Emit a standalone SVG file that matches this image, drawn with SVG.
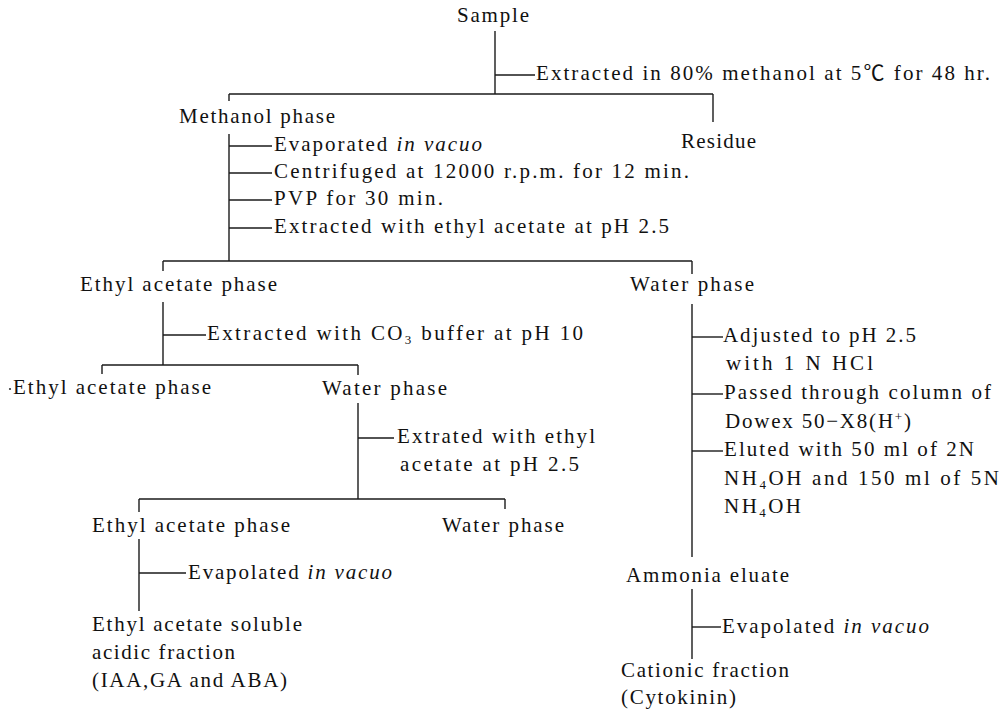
<svg xmlns="http://www.w3.org/2000/svg" width="1003" height="711" viewBox="0 0 1003 711">
<style>
text{font-family:"Liberation Serif","Noto Sans CJK JP",serif;font-size:21px;fill:#111}
.it{font-style:italic}
.sub{font-size:13px}
#connectors line{stroke:#1a1a1a;stroke-width:1.4;fill:none}
</style>
<rect width="1003" height="711" fill="#fff"/>
<g id="connectors">
<line x1="495" y1="31" x2="495" y2="94"/>
<line x1="495" y1="75" x2="535" y2="75"/>
<line x1="229" y1="94" x2="713" y2="94"/>
<line x1="229" y1="94" x2="229" y2="101"/>
<line x1="713" y1="94" x2="713" y2="122"/>
<line x1="229" y1="134" x2="229" y2="261"/>
<line x1="229" y1="146" x2="272" y2="146"/>
<line x1="229" y1="173" x2="272" y2="173"/>
<line x1="229" y1="200" x2="272" y2="200"/>
<line x1="229" y1="228" x2="272" y2="228"/>
<line x1="163" y1="261" x2="692" y2="261"/>
<line x1="163" y1="261" x2="163" y2="271"/>
<line x1="692" y1="261" x2="692" y2="274"/>
<line x1="163" y1="302" x2="163" y2="365"/>
<line x1="163" y1="335" x2="206" y2="335"/>
<line x1="102" y1="365" x2="358" y2="365"/>
<line x1="102" y1="365" x2="102" y2="374"/>
<line x1="358" y1="365" x2="358" y2="375"/>
<line x1="358" y1="403" x2="358" y2="499"/>
<line x1="358" y1="438" x2="394" y2="438"/>
<line x1="139" y1="499" x2="505" y2="499"/>
<line x1="139" y1="499" x2="139" y2="512"/>
<line x1="505" y1="499" x2="505" y2="509"/>
<line x1="139" y1="539" x2="139" y2="611"/>
<line x1="139" y1="573" x2="186" y2="573"/>
<line x1="692" y1="304" x2="692" y2="557"/>
<line x1="692" y1="337" x2="723" y2="337"/>
<line x1="692" y1="394" x2="723" y2="394"/>
<line x1="692" y1="451" x2="723" y2="451"/>
<line x1="692" y1="589" x2="692" y2="659"/>
<line x1="692" y1="627" x2="721" y2="627"/>
</g>
<g id="sample"><text x="457" y="22" textLength="72" lengthAdjust="spacing">Sample</text></g>
<g id="step-extract-methanol"><text x="536" y="80" textLength="454" lengthAdjust="spacing">Extracted in 80% methanol at 5℃ for 48 hr.</text></g>
<g id="methanol-phase"><text x="179" y="123" textLength="156" lengthAdjust="spacing">Methanol phase</text></g>
<g id="residue"><text x="681" y="148" textLength="75" lengthAdjust="spacing">Residue</text></g>
<g id="steps-methanol">
<text x="274" y="151" textLength="208" lengthAdjust="spacing">Evaporated <tspan class="it">in vacuo</tspan></text>
<text x="274" y="178" textLength="415" lengthAdjust="spacing">Centrifuged at 12000 r.p.m. for 12 min.</text>
<text x="274" y="205" textLength="169" lengthAdjust="spacing">PVP for 30 min.</text>
<text x="274" y="233" textLength="395" lengthAdjust="spacing">Extracted with ethyl acetate at pH 2.5</text>
</g>
<g id="ethyl-acetate-phase-1"><text x="80" y="291" textLength="197" lengthAdjust="spacing">Ethyl acetate phase</text></g>
<g id="water-phase-1"><text x="630" y="291" textLength="124" lengthAdjust="spacing">Water phase</text></g>
<g id="step-co3"><text x="207" y="340" textLength="376" lengthAdjust="spacing">Extracted with CO<tspan class="sub" dy="4">3</tspan><tspan dy="-4"> buffer at pH 10</tspan></text></g>
<g id="ethyl-acetate-phase-2"><circle cx="10" cy="389" r="1.1" fill="#333"/><text x="13" y="394" textLength="198" lengthAdjust="spacing">Ethyl acetate phase</text></g>
<g id="water-phase-2"><text x="322" y="395" textLength="125" lengthAdjust="spacing">Water phase</text></g>
<g id="step-extrated">
<text x="397" y="443" textLength="198" lengthAdjust="spacing">Extrated with ethyl</text>
<text x="400" y="471" textLength="179" lengthAdjust="spacing">acetate at pH 2.5</text>
</g>
<g id="ethyl-acetate-phase-3"><text x="92" y="532" textLength="198" lengthAdjust="spacing">Ethyl acetate phase</text></g>
<g id="water-phase-3"><text x="442" y="532" textLength="122" lengthAdjust="spacing">Water phase</text></g>
<g id="step-evap-1"><text x="188" y="579" textLength="204" lengthAdjust="spacing">Evapolated <tspan class="it">in vacuo</tspan></text></g>
<g id="acidic-fraction">
<text x="92" y="631" textLength="210" lengthAdjust="spacing">Ethyl acetate soluble</text>
<text x="92" y="659" textLength="143" lengthAdjust="spacing">acidic fraction</text>
<text x="92" y="687" textLength="195" lengthAdjust="spacing">(IAA,GA and ABA)</text>
</g>
<g id="steps-water">
<text x="723" y="342" textLength="193" lengthAdjust="spacing">Adjusted to pH 2.5</text>
<text x="726" y="370" textLength="147" lengthAdjust="spacing">with 1 N HCl</text>
<text x="724" y="399" textLength="267" lengthAdjust="spacing">Passed through column of</text>
<text x="725" y="428" textLength="186" lengthAdjust="spacing">Dowex 50−X8(H<tspan class="sub" dy="-7">+</tspan><tspan dy="7">)</tspan></text>
<text x="724" y="456" textLength="250" lengthAdjust="spacing">Eluted with 50 ml of 2N</text>
<text x="724" y="485" textLength="275" lengthAdjust="spacing">NH<tspan class="sub" dy="4">4</tspan><tspan dy="-4">OH and 150 ml of 5N</tspan></text>
<text x="724" y="513" textLength="77" lengthAdjust="spacing">NH<tspan class="sub" dy="4">4</tspan><tspan dy="-4">OH</tspan></text>
</g>
<g id="ammonia-eluate"><text x="626" y="582" textLength="163" lengthAdjust="spacing">Ammonia eluate</text></g>
<g id="step-evap-2"><text x="722" y="633" textLength="207" lengthAdjust="spacing">Evapolated <tspan class="it">in vacuo</tspan></text></g>
<g id="cationic-fraction">
<text x="621" y="677" textLength="168" lengthAdjust="spacing">Cationic fraction</text>
<text x="621" y="704" textLength="115" lengthAdjust="spacing">(Cytokinin)</text>
</g>
</svg>
